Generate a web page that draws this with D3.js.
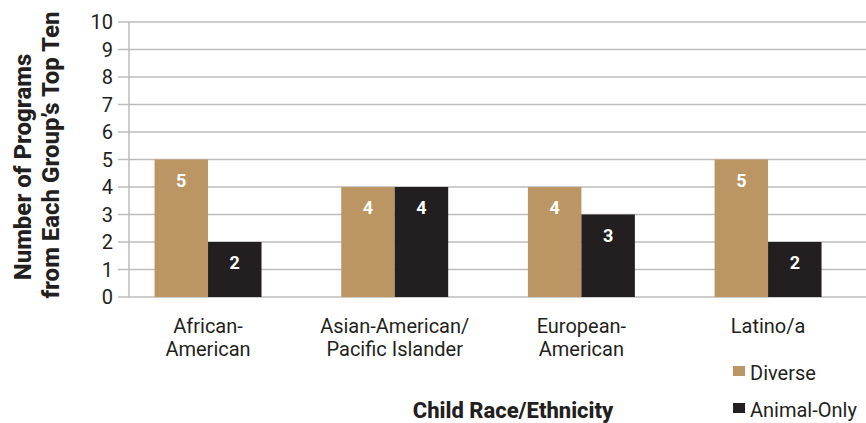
<!DOCTYPE html>
<html>
<head>
<meta charset="utf-8">
<script src="https://cdn.jsdelivr.net/npm/d3@7/dist/d3.min.js"></script>
<style>
  body { margin: 0; background: #fff; }
  svg { display: block; }
  text { font-family: Roboto, "Noto Sans", sans-serif; fill: #231f20; }
</style>
</head>
<body>
<svg id="chart" width="866" height="423"></svg>
<script>
const categories = [["African-", "American"], ["Asian-American/", "Pacific Islander"], ["European-", "American"], ["Latino/a"]];
const seriesNames = ["Diverse", "Animal-Only"];
const diverse = [5, 4, 4, 5];
const animalOnly = [2, 4, 3, 2];
const yTicks = [0, 1, 2, 3, 4, 5, 6, 7, 8, 9, 10];
const colors = ["#bb9664", "#231f20"];

const svg = d3.select("#chart");
const catKeys = categories.map(c => c.join(" "));
const series = [diverse, animalOnly];

const y = d3.scaleLinear().domain([0, 10]).range([297, 22]);
const x0 = d3.scaleBand().domain(catKeys).range([114.7, 861.4]).paddingInner(0.427).paddingOuter(0.2135);
const x1 = d3.scaleBand().domain(seriesNames).range([0, x0.bandwidth()]);

// horizontal gridlines with short ticks left of the axis
const grid = svg.append("g");
grid.selectAll("line").data(yTicks).join("line")
  .attr("x1", 118).attr("x2", 866)
  .attr("y1", d => y(d)).attr("y2", d => y(d))
  .attr("stroke", "#bdbdbd").attr("stroke-width", 1.5);
svg.append("line").attr("x1", 129).attr("x2", 129).attr("y1", y(10)).attr("y2", y(0))
  .attr("stroke", "#bdbdbd").attr("stroke-width", 1.5);

// y tick labels
svg.append("g").selectAll("text").data(yTicks).join("text")
  .attr("x", 113).attr("y", d => y(d)).attr("dy", "0.36em")
  .attr("text-anchor", "end").style("font-size", "20px").style("font-weight", 400)
  .text(d => d);

// bars
const groups = svg.append("g").selectAll("g").data(catKeys).join("g")
  .attr("transform", d => `translate(${x0(d)},0)`);
groups.each(function(cat, i) {
  const g = d3.select(this);
  seriesNames.forEach((s, j) => {
    const v = series[j][i];
    g.append("rect")
      .attr("x", x1(s)).attr("width", x1.bandwidth())
      .attr("y", y(v)).attr("height", y(0) - y(v))
      .attr("fill", colors[j]);
    g.append("text")
      .attr("x", x1(s) + x1.bandwidth() / 2).attr("y", y(v) + 27)
      .attr("text-anchor", "middle").style("font-size", "18px").style("font-weight", 700)
      .style("fill", "#fff").text(v);
  });
});

// category labels
svg.append("g").selectAll("text").data(categories).join("text")
  .attr("text-anchor", "middle").style("font-size", "20px").style("font-weight", 400)
  .attr("transform", (d, i) => `translate(${x0(catKeys[i]) + x0.bandwidth() / 2},333)`)
  .each(function(lines) {
    d3.select(this).selectAll("tspan").data(lines).join("tspan")
      .attr("x", 0).attr("y", (d, k) => k * 23).text(d => d);
  });

// axis titles
svg.append("text").attr("x", 513).attr("y", 418).attr("text-anchor", "middle")
  .style("font-size", "22px").style("font-weight", 800).text("Child Race/Ethnicity");
svg.append("text").attr("transform", "translate(31,167) rotate(-90)").attr("text-anchor", "middle")
  .style("font-size", "24px").style("font-weight", 800).text("Number of Programs");
svg.append("text").attr("transform", "translate(59,155) rotate(-90)").attr("text-anchor", "middle")
  .style("font-size", "24px").style("font-weight", 800).text("from Each Group\u2019s Top Ten");

// legend
const legend = svg.append("g").selectAll("g").data(seriesNames).join("g")
  .attr("transform", (d, i) => `translate(733,${366 + i * 37})`);
legend.append("rect").attr("width", 12).attr("height", 10).attr("fill", (d, i) => colors[i]);
legend.append("text").attr("x", 17).attr("y", 14).style("font-size", "20px").style("font-weight", 400).text(d => d);
</script>
</body>
</html>
